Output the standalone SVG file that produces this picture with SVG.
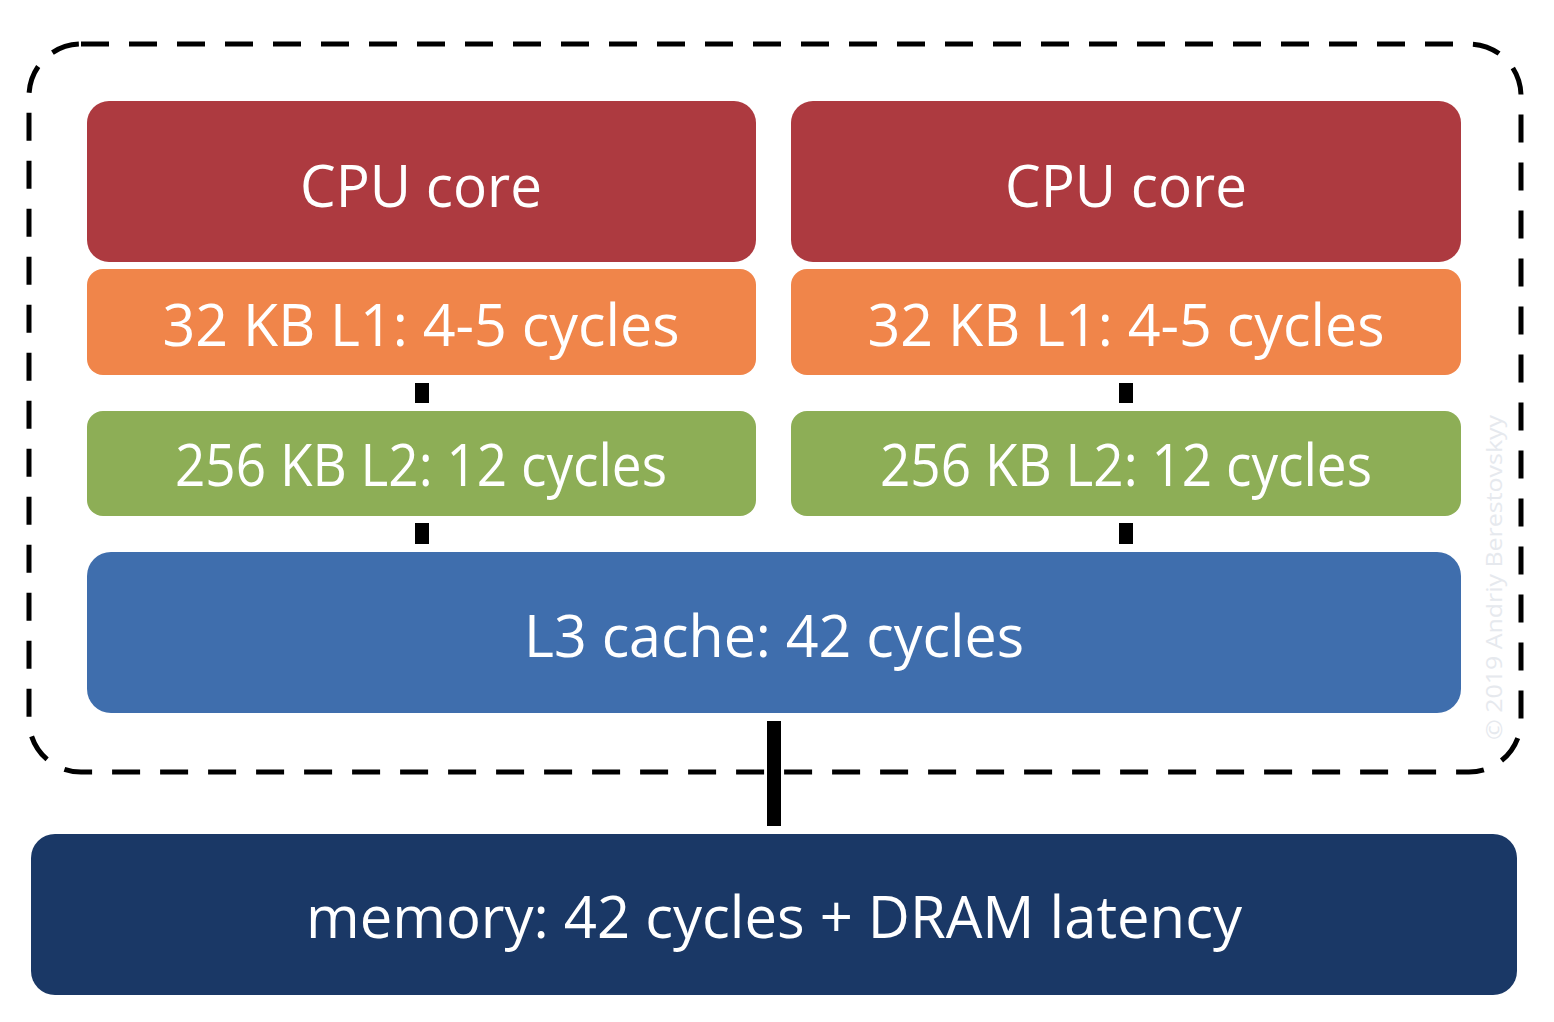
<svg xmlns="http://www.w3.org/2000/svg" width="1554" height="1022" viewBox="0 0 1554 1022">
<style>
.lbl{font-family:"Open Sans","Noto Sans",sans-serif;font-size:58px;fill:#ffffff;text-anchor:middle}
.core{fill:#AD3A40}
.l1{fill:#F0854A}
.l2{fill:#8DAE56}
.l3{fill:#3F6EAD}
.mem{fill:#1A3866}
.link{fill:#000000}
</style>
<rect x="0" y="0" width="1554" height="1022" fill="#ffffff"/>
<g id="boundary">
<rect x="29" y="44" width="1492" height="728" rx="52" ry="52" fill="none" stroke="#000" stroke-width="5" stroke-dasharray="28 20"/>
</g>
<g id="connectors">
<rect class="link" x="415" y="383" width="14" height="20"/>
<rect class="link" x="415" y="523" width="14" height="21"/>
<rect class="link" x="1119" y="383" width="14" height="20"/>
<rect class="link" x="1119" y="523" width="14" height="21"/>
<rect class="link" x="767" y="721" width="14" height="105"/>
</g>
<g id="cpu-core-left">
<rect class="core" x="87" y="101" width="669" height="161" rx="22"/>
<text class="lbl" x="421" y="207" textLength="242" lengthAdjust="spacingAndGlyphs">CPU core</text>
</g>
<g id="cpu-core-right">
<rect class="core" x="791" y="101" width="670" height="161" rx="22"/>
<text class="lbl" x="1126" y="207" textLength="242" lengthAdjust="spacingAndGlyphs">CPU core</text>
</g>
<g id="l1-left">
<rect class="l1" x="87" y="269" width="669" height="106" rx="16"/>
<text class="lbl" x="421" y="346" textLength="517" lengthAdjust="spacingAndGlyphs">32 KB L1: 4-5 cycles</text>
</g>
<g id="l1-right">
<rect class="l1" x="791" y="269" width="670" height="106" rx="16"/>
<text class="lbl" x="1126" y="346" textLength="517" lengthAdjust="spacingAndGlyphs">32 KB L1: 4-5 cycles</text>
</g>
<g id="l2-left">
<rect class="l2" x="87" y="411" width="669" height="105" rx="16"/>
<text class="lbl" x="421" y="486" textLength="492" lengthAdjust="spacingAndGlyphs">256 KB L2: 12 cycles</text>
</g>
<g id="l2-right">
<rect class="l2" x="791" y="411" width="670" height="105" rx="16"/>
<text class="lbl" x="1126" y="486" textLength="492" lengthAdjust="spacingAndGlyphs">256 KB L2: 12 cycles</text>
</g>
<g id="l3">
<rect class="l3" x="87" y="552" width="1374" height="161" rx="24"/>
<text class="lbl" x="774" y="657" textLength="500" lengthAdjust="spacingAndGlyphs">L3 cache: 42 cycles</text>
</g>
<g id="memory">
<rect class="mem" x="31" y="834" width="1486" height="161" rx="24"/>
<text class="lbl" x="774" y="938" textLength="936" lengthAdjust="spacingAndGlyphs">memory: 42 cycles + DRAM latency</text>
</g>
<g id="watermark">
<text x="0" y="0" transform="translate(1502 740) rotate(-90)" font-family="'Open Sans','Noto Sans',sans-serif" font-size="21" fill="#E6E9EE" textLength="325" lengthAdjust="spacingAndGlyphs">© 2019 Andriy Berestovskyy</text>
</g>
</svg>
